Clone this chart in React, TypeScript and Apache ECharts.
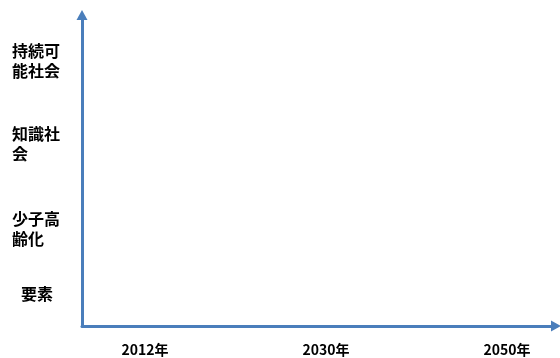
import React, { useEffect, useRef } from "react";
import * as echarts from "echarts";

// Y-axis categories (bottom to top) and their levels on the vertical scale (0 = bottom, 311 = top)
const yCategories = ["要素", "少子高齢化", "知識社会", "持続可能社会"];
const yLevels = [33, 98, 183, 266];
// X-axis categories
const xCategories = ["2012年", "2030年", "2050年"];

export default function App() {
  const ref = useRef<HTMLDivElement>(null);
  useEffect(() => {
    const chart = echarts.init(ref.current!, null, { renderer: "svg" });
    const axisColor = "#4a7ebb";
    const font = '"Noto Sans CJK JP", "Noto Sans", sans-serif';
    const axisLine = {
      show: true,
      symbol: ["none", "triangle"],
      symbolSize: [11, 10],
      lineStyle: { color: axisColor, width: 3 },
    };
    chart.setOption({
      animation: false,
      grid: [
        { left: 82, right: 4, top: 15, bottom: 32 },
        { left: 145, right: 53, top: 15, bottom: 32 },
      ],
      xAxis: [
        {
          gridIndex: 0,
          type: "value",
          min: 0,
          max: 1,
          axisLine,
          axisTick: { show: false },
          axisLabel: { show: false },
          splitLine: { show: false },
        },
        {
          gridIndex: 1,
          type: "category",
          data: xCategories,
          boundaryGap: false,
          axisLine: { show: false },
          axisTick: { show: false },
          splitLine: { show: false },
          axisLabel: {
            margin: 15,
            color: "#000",
            fontSize: 14,
            lineHeight: 16,
            fontWeight: "bold",
            fontFamily: font,
          },
        },
      ],
      yAxis: [
        {
          gridIndex: 0,
          type: "value",
          min: 0,
          max: 311,
          axisLine,
          axisTick: { show: false },
          splitLine: { show: false },
          axisLabel: {
            customValues: yLevels,
            formatter: (v: number) => {
              const i = yLevels.indexOf(Math.round(v));
              const label = i >= 0 ? yCategories[i] : "";
              return label.length <= 2 && label.length > 0 ? `{c|${label}}` : label;
            },
            align: "left",
            margin: 70,
            width: 50,
            overflow: "break",
            lineHeight: 20,
            color: "#000",
            fontSize: 16,
            fontWeight: "bold",
            fontFamily: font,
            rich: {
              c: {
                width: 50,
                align: "center",
                color: "#000",
                fontSize: 16,
                fontWeight: "bold",
                fontFamily: font,
              },
            },
          },
        },
        { gridIndex: 1, type: "value", show: false, min: 0, max: 1 },
      ],
      series: [],
    });
    return () => chart.dispose();
  }, []);
  return (
    <div
      ref={ref}
      style={{ position: "fixed", left: 0, top: 0, width: 560, height: 358 }}
    />
  );
}
